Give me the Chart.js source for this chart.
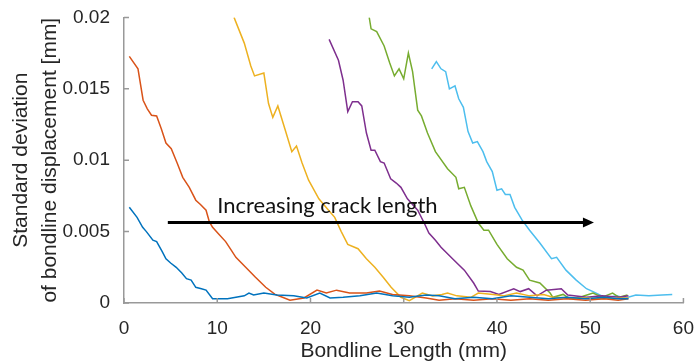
<!DOCTYPE html>
<html>
<head>
<meta charset="utf-8">
<script src="https://cdn.jsdelivr.net/npm/chart.js@4"></script>
<style>
  html, body { margin: 0; padding: 0; background: #fff; }
  #wrap { width: 700px; height: 364px; }
</style>
</head>
<body>
<div id="wrap"><canvas id="myChart"></canvas></div>
<script>
// series (x = bondline length in mm, y = std dev in mm)
const blueX = [0.57, 1.4, 2.0, 2.4, 3.1, 3.5, 4.1, 4.5, 5.0, 5.6, 6.2, 6.7, 7.2, 7.7, 8.3, 8.8, 9.5, 11.1, 12.9, 13.4, 13.9, 15.0, 16.4, 18.2, 19.6, 21.0, 22.1, 23.5, 25.3, 27.1, 28.8, 30.6, 32.4, 33.8, 35.5, 37.5, 39.5, 41.5, 43.5, 45.5, 47.5, 49.5, 51.5, 53.0, 54.1];
const blueY = [0.0067, 0.0060, 0.0053, 0.0050, 0.0044, 0.0043, 0.0036, 0.0031, 0.0028, 0.0025, 0.0021, 0.0017, 0.0016, 0.0011, 0.0010, 0.0009, 0.0003, 0.0003, 0.0005, 0.0007, 0.00056, 0.0007, 0.00056, 0.0005, 0.00035, 0.0007, 0.00035, 0.0004, 0.0005, 0.0007, 0.0005, 0.0004, 0.00056, 0.0005, 0.0003, 0.0004, 0.0003, 0.0005, 0.0004, 0.0003, 0.0004, 0.0003, 0.0004, 0.0003, 0.0003];

const orangeX = [0.57, 1.5, 2.05, 2.5, 2.95, 3.5, 4.0, 4.5, 5.07, 5.7, 6.3, 7.0, 7.7, 8.2, 8.8, 9.15, 9.5, 10.2, 10.9, 11.5, 12.0, 13.05, 14.1, 15.2, 16.2, 17.0, 17.8, 19.3, 20.7, 21.7, 22.8, 24.2, 26.0, 27.4, 28.8, 30.6, 32.4, 33.8, 35.5, 37.5, 39.5, 41.5, 43.5, 45.5, 47.5, 49.5, 51.5, 53.0, 54.1];
const orangeY = [0.01727, 0.0164, 0.0142, 0.0136, 0.01315, 0.0131, 0.0122, 0.0112, 0.0108, 0.0098, 0.0088, 0.0081, 0.0072, 0.0069, 0.0065, 0.0057, 0.0053, 0.0048, 0.0043, 0.0037, 0.0032, 0.0025, 0.0018, 0.0011, 0.0006, 0.0004, 0.0002, 0.00035, 0.0009, 0.0007, 0.0009, 0.0007, 0.0007, 0.00084, 0.0006, 0.0005, 0.00035, 0.0002, 0.0003, 0.0002, 0.0003, 0.0002, 0.0003, 0.0002, 0.0003, 0.0002, 0.0003, 0.0002, 0.0003];

const yellowX = [11.8, 12.9, 13.6, 14.0, 15.0, 15.5, 15.96, 16.5, 17.3, 18.0, 18.5, 19.1, 19.8, 20.9, 21.8, 22.6, 23.3, 24.0, 25.1, 26.0, 26.9, 27.8, 28.65, 29.7, 30.6, 32.0, 33.1, 34.1, 34.7, 35.7, 37.2, 38.0, 39.6, 40.7, 42.1, 43.5, 45.0, 46.0, 47.8, 49.6, 51.3, 54.1];
const yellowY = [0.02, 0.0182, 0.0166, 0.0159, 0.0161, 0.01397, 0.0130, 0.0138, 0.0121, 0.0106, 0.0110, 0.0098, 0.0086, 0.0073, 0.0066, 0.0060, 0.0050, 0.0041, 0.0038, 0.0031, 0.0025, 0.0018, 0.0011, 0.0004, 0.00016, 0.0007, 0.0005, 0.0006, 0.0007, 0.0005, 0.0004, 0.0007, 0.0006, 0.0005, 0.0007, 0.0005, 0.0006, 0.0004, 0.00035, 0.00035, 0.0003, 0.00035];

const purpleX = [22.0, 23.0, 23.5, 24.0, 24.5, 25.1, 25.5, 26.0, 26.5, 26.9, 27.5, 27.9, 28.6, 29.2, 29.7, 30.4, 31.5, 32.2, 32.7, 33.4, 34.0, 35.4, 36.5, 37.5, 38.0, 39.3, 40.2, 41.8, 42.5, 43.4, 44.3, 45.3, 46.9, 47.6, 49.6, 51.3, 53.1, 54.1];
const purpleY = [0.01846, 0.0170, 0.0156, 0.0134, 0.0141, 0.0141, 0.0138, 0.0119, 0.0107, 0.0107, 0.0099, 0.0098, 0.0087, 0.0084, 0.0081, 0.0073, 0.0065, 0.0056, 0.0049, 0.0044, 0.0039, 0.0030, 0.0023, 0.0014, 0.00084, 0.0008, 0.0006, 0.0010, 0.0008, 0.0010, 0.0005, 0.0009, 0.0010, 0.00056, 0.0004, 0.0005, 0.0004, 0.0005];

const greenX = [26.3, 26.5, 27.1, 27.9, 28.5, 29.0, 29.5, 30.0, 30.5, 30.95, 31.5, 31.9, 32.55, 33.4, 34.7, 35.6, 35.9, 36.5, 37.2, 38.0, 38.6, 39.1, 40.0, 41.1, 42.1, 42.8, 43.5, 44.6, 45.7, 46.0, 47.1, 47.8, 48.9, 50.3, 51.3, 52.4, 53.1, 54.0];
const greenY = [0.02, 0.0192, 0.0190, 0.0180, 0.0168, 0.0159, 0.0164, 0.0157, 0.0175, 0.0162, 0.0135, 0.0131, 0.0119, 0.0106, 0.0094, 0.0088, 0.0080, 0.0081, 0.0068, 0.0056, 0.0051, 0.0051, 0.0041, 0.0031, 0.0025, 0.0023, 0.0016, 0.0014, 0.0007, 0.0004, 0.0006, 0.0003, 0.0004, 0.0007, 0.0004, 0.0007, 0.0004, 0.00056];

const cyanX = [33.0, 33.5, 34.0, 34.5, 34.9, 35.5, 35.9, 36.4, 36.9, 37.4, 37.9, 38.5, 38.9, 39.5, 40.0, 40.5, 40.9, 41.4, 41.9, 42.7, 43.5, 44.6, 45.85, 46.4, 47.4, 48.5, 49.6, 50.3, 51.7, 52.8, 53.8, 54.9, 56.3, 57.7, 58.8];
const cyanY = [0.0164, 0.0169, 0.0164, 0.0162, 0.0150, 0.0152, 0.0143, 0.0137, 0.0120, 0.0112, 0.0113, 0.0106, 0.0099, 0.0092, 0.0079, 0.0080, 0.0076, 0.0076, 0.0067, 0.0058, 0.0051, 0.0042, 0.0031, 0.0032, 0.0023, 0.0016, 0.0010, 0.0008, 0.00035, 0.0005, 0.00035, 0.00056, 0.0005, 0.00056, 0.0006];

const xTickLabels = ["0", "10", "20", "30", "40", "50", "60"];
const yTickLabels = ["0", "0.005", "0.01", "0.015", "0.02"];

// annotation arrow
const arrowX = [4.7, 50.4];
const arrowY = [0.00564, 0.00564];
const arrowText = "Increasing crack length";
const arrowTextPos = [10.0, 0.00627];

const zip = (xs, ys) => xs.map((x, i) => ({ x: x, y: ys[i] }));

const series = [
  [blueX, blueY, "#0072BD"],
  [orangeX, orangeY, "#D95319"],
  [yellowX, yellowY, "#EDB120"],
  [purpleX, purpleY, "#7E2F8E"],
  [greenX, greenY, "#77AC30"],
  [cyanX, cyanY, "#4DBEEE"],
];

const axisGrey = "#999999";
const textGrey = "#262626";

// matlab style ticks pointing into the axes
const innerTicks = {
  id: "innerTicks",
  afterDraw(chart) {
    const ctx = chart.ctx;
    const xs = chart.scales.x, ys = chart.scales.y;
    ctx.save();
    ctx.strokeStyle = axisGrey;
    ctx.lineWidth = 1.5;
    ctx.beginPath();
    xs.ticks.forEach(t => {
      const px = xs.getPixelForValue(t.value);
      ctx.moveTo(px, ys.bottom);
      ctx.lineTo(px, ys.bottom - 5);
    });
    ys.ticks.forEach(t => {
      const py = ys.getPixelForValue(t.value);
      ctx.moveTo(xs.left, py);
      ctx.lineTo(xs.left + 5, py);
    });
    ctx.stroke();
    ctx.restore();
  }
};

const arrowPlugin = {
  id: "arrowPlugin",
  afterDatasetsDraw(chart) {
    const ctx = chart.ctx;
    const xs = chart.scales.x, ys = chart.scales.y;
    const x0 = xs.getPixelForValue(arrowX[0]), y0 = ys.getPixelForValue(arrowY[0]);
    const x1 = xs.getPixelForValue(arrowX[1]), y1 = ys.getPixelForValue(arrowY[1]);
    ctx.save();
    ctx.strokeStyle = "#000";
    ctx.fillStyle = "#000";
    ctx.lineWidth = 3;
    ctx.beginPath();
    ctx.moveTo(x0, y0);
    ctx.lineTo(x1 - 8, y1);
    ctx.stroke();
    ctx.beginPath();
    ctx.moveTo(x1, y1);
    ctx.lineTo(x1 - 11, y1 - 5);
    ctx.lineTo(x1 - 11, y1 + 5);
    ctx.closePath();
    ctx.fill();
    ctx.font = "22px Lato";
    ctx.textBaseline = "alphabetic";
    ctx.textAlign = "left";
    ctx.fillStyle = "#111";
    ctx.fillText(arrowText, xs.getPixelForValue(arrowTextPos[0]), ys.getPixelForValue(arrowTextPos[1]));
    ctx.restore();
  }
};

const ctx = document.getElementById("myChart").getContext("2d");
const myChart = new Chart(ctx, {
  type: "line",
  data: {
    datasets: series.map(s => ({
      data: zip(s[0], s[1]),
      borderColor: s[2],
      borderWidth: 1.5,
      pointRadius: 0,
      tension: 0,
      fill: false,
    })),
  },
  options: {
    responsive: true,
    maintainAspectRatio: false,
    animation: false,
    layout: { padding: { left: 0, top: 17, right: 12, bottom: 0 } },
    plugins: {
      legend: { display: false },
      tooltip: { enabled: false },
    },
    scales: {
      x: {
        type: "linear",
        min: 0,
        max: 60,
        grid: { display: false },
        border: { display: true, color: axisGrey, width: 1.5 },
        ticks: {
          stepSize: 10,
          padding: 6,
          color: textGrey,
          font: { family: "Liberation Sans", size: 19 },
          maxRotation: 0,
          callback: (v) => xTickLabels[Math.round(v / 10)],
        },
        title: {
          display: true,
          text: "Bondline Length (mm)",
          color: textGrey,
          font: { family: "Liberation Sans", size: 21 },
          padding: { top: 0, bottom: 0 },
        },
        afterFit: (scale) => { scale.height = 61; },
      },
      y: {
        min: 0,
        max: 0.02,
        grid: { display: false },
        border: { display: true, color: axisGrey, width: 1.5 },
        ticks: {
          stepSize: 0.005,
          padding: 6,
          color: textGrey,
          font: { family: "Liberation Sans", size: 19 },
          callback: (v) => yTickLabels[Math.round(v / 0.005)],
        },
        title: {
          display: true,
          text: ["Standard deviation", "of bondline displacement [mm]"],
          color: textGrey,
          font: { family: "Liberation Sans", size: 21, lineHeight: 1.38 },
          padding: { top: 7, bottom: 0 },
        },
        afterFit: (scale) => { scale.width = 124; },
      },
    },
  },
  plugins: [innerTicks, arrowPlugin],
});
</script>
</body>
</html>
